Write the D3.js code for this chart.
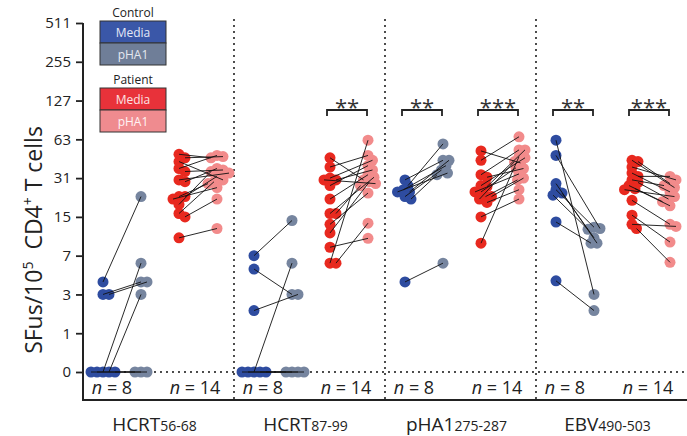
<!DOCTYPE html>
<html>
<head>
<meta charset="utf-8">
<script src="https://cdn.jsdelivr.net/npm/d3@7"></script>
<style>
  body { margin: 0; background: #fff; }
  svg { display: block; font-family: 'Open Sans', sans-serif; }
</style>
</head>
<body>
<svg></svg>
<script>
// peptide panels
let peptides = ['HCRT', 'HCRT', 'pHA1', 'EBV']
let peptideSubs = ['56-68', '87-99', '275-287', '490-503']
let yTicks = [0, 1, 3, 7, 15, 31, 63, 127, 255, 511]

// SFus per 10^5 CD4+ T cells, paired by index (media -> pHA1)
let controlMedia = [
  [4, 3, 3, 0, 0, 0, 0, 0],
  [7, 5.3, 2, 0, 0, 0, 0, 0],
  [30, 27, 25, 24, 24, 22, 21, 4],
  [62, 47, 28, 25, 23.5, 22.6, 13.6, 4.1]
]
let controlPHA1 = [
  [22, 4, 4, 6, 3, 0, 0, 0],
  [14, 3, 3, 6, 0, 0, 0, 0],
  [43, 58, 39, 43, 34, 36, 33, 6],
  [3, 12, 9, 12.3, 10, 11.8, 9, 2]
]
let patientMedia = [
  [45, 48, 42, 37, 35, 30, 29, 22, 22, 21, 19, 16, 15, 10],
  [45, 38, 31, 30, 30, 27, 21, 16, 16, 13, 11, 8.3, 6, 6],
  [51, 43, 33, 31.5, 27, 26.5, 24, 24, 22, 22, 21, 19.7, 15, 9],
  [43, 42, 38, 34, 32, 30, 28.6, 27, 25, 25.5, 20.5, 15.5, 13, 12]
]
let patientPHA1 = [
  [46, 45, 30, 47, 36, 34, 37, 28, 32, 26, 35, 29, 21, 12],
  [30, 47, 43, 36, 28, 39, 33, 31.5, 27, 23.5, 29, 9.9, 62, 13.3],
  [41, 66, 52, 37, 45, 52, 37.5, 33.5, 30, 31, 42, 25, 21, 46],
  [26, 28, 30, 24, 32, 27, 21, 20, 22, 18.5, 13, 9.2, 12.5, 6.1]
]
let sigControl = ['', '', '**', '**']
let sigPatient = ['', '**', '***', '***']
let nControl = 8
let nPatient = 14

let width = 687
let height = 436
let axisLeftX = 83
let axisBottomY = 400
let radius = 5.5

let colors = { cm: '#2e4ca0', cp: '#76859f', pm: '#e8291f', pp: '#f28b8b' }

let svg = d3.select('svg').attr('width', width).attr('height', height)

let yScale = d3.scaleLog().base(2).domain([1, 512]).range([372, 23])
let y = v => yScale(v + 1)

let xPanel = d3.scaleBand().domain(d3.range(4)).range([axisLeftX, width])
let xGroup = d3.scalePoint().domain(['cm', 'cp', 'pm', 'pp']).range([20, 134])

// simple beeswarm so overlapping dots spread sideways
let swarm = (vals, cx) => {
  let pts = vals.map((v, i) => ({ v: v, i: i, y: y(v) }))
  let order = pts.slice().sort((a, b) => d3.descending(a.v, b.v))
  let placed = []
  let minD = 6
  order.forEach(p => {
    for (let k = 0; k < 80; k++) {
      let off = (k % 2 ? 1 : -1) * Math.ceil(k / 2) * 1.5
      let x = cx + off
      let ok = placed.every(q => (q.x - x) ** 2 + (q.y - p.y) ** 2 >= minD * minD)
      if (ok) { p.x = x; break }
    }
    placed.push(p)
  })
  return pts
}

// zero reference line
svg.append('line')
  .attr('x1', axisLeftX).attr('x2', width)
  .attr('y1', y(0)).attr('y2', y(0))
  .attr('stroke', '#111').attr('stroke-width', 2)
  .attr('stroke-linecap', 'round').attr('stroke-dasharray', '0,6')

// panel separators
d3.range(1, 4).forEach(i => {
  svg.append('line')
    .attr('x1', xPanel(i)).attr('x2', xPanel(i))
    .attr('y1', 20).attr('y2', axisBottomY)
    .attr('stroke', '#111').attr('stroke-width', 2)
    .attr('stroke-linecap', 'round').attr('stroke-dasharray', '0,6')
})

let groups = [
  { key: 'cm', data: controlMedia },
  { key: 'cp', data: controlPHA1 },
  { key: 'pm', data: patientMedia },
  { key: 'pp', data: patientPHA1 }
]

let dotLayer = svg.append('g')
let lineLayer = svg.append('g')

d3.range(4).forEach(p => {
  let pos = {}
  groups.forEach(g => {
    pos[g.key] = swarm(g.data[p], xPanel(p) + xGroup(g.key))
    dotLayer.selectAll(null)
      .data(pos[g.key])
      .enter()
      .append('circle')
      .attr('cx', d => d.x)
      .attr('cy', d => d.y)
      .attr('r', radius)
      .attr('fill', colors[g.key])
  })
  let pairs = [['cm', 'cp'], ['pm', 'pp']]
  pairs.forEach(pr => {
    lineLayer.selectAll(null)
      .data(pos[pr[0]])
      .enter()
      .append('line')
      .attr('x1', d => d.x)
      .attr('y1', d => d.y)
      .attr('x2', d => pos[pr[1]][d.i].x)
      .attr('y2', d => pos[pr[1]][d.i].y)
      .attr('stroke', '#111')
      .attr('stroke-width', 0.9)
  })

  // significance brackets
  let sigs = [[sigControl[p], 'cm', 'cp'], [sigPatient[p], 'pm', 'pp']]
  sigs.forEach(s => {
    if (!s[0]) return
    let x1 = xPanel(p) + xGroup(s[1]) - 3
    let x2 = xPanel(p) + xGroup(s[2]) - 1
    svg.append('path')
      .attr('d', `M${x1},116V110H${x2}V116`)
      .attr('fill', 'none').attr('stroke', '#222').attr('stroke-width', 1.8)
    svg.append('text')
      .attr('x', (x1 + x2) / 2).attr('y', 115)
      .attr('text-anchor', 'middle')
      .attr('font-size', 22).attr('fill', '#333')
      .text(s[0])
  })

  // n labels
  let nl = [[nControl, 'cm', 'cp', -10], [nPatient, 'pm', 'pp', -3]]
  nl.forEach(n => {
    let t = svg.append('text')
      .attr('x', xPanel(p) + (xGroup(n[1]) + xGroup(n[2])) / 2 + n[3])
      .attr('y', 394)
      .attr('text-anchor', 'middle')
      .attr('font-size', 18).attr('fill', '#222')
    t.append('tspan').attr('font-style', 'italic').text('n')
    t.append('tspan').text(' = ' + n[0])
  })

  // x category label
  let lab = svg.append('text')
    .attr('x', xPanel(p) + xPanel.bandwidth() / 2 - 4)
    .attr('y', 431)
    .attr('text-anchor', 'middle')
    .attr('fill', '#222')
    .attr('font-size', 19)
  lab.append('tspan').text(peptides[p])
  lab.append('tspan').attr('font-size', 14).text(peptideSubs[p])
})

// axes
let yAxis = d3.axisLeft(yScale)
  .tickValues(yTicks.map(d => d + 1))
  .tickFormat(d => d - 1)
  .tickSize(7)
  .tickSizeOuter(0)
  .tickPadding(5)

let ya = svg.append('g')
  .attr('transform', 'translate(' + axisLeftX + ',0)')
  .call(yAxis)
ya.select('.domain').remove()
ya.selectAll('.tick line').attr('stroke', '#222').attr('stroke-width', 1.8)
ya.selectAll('.tick text').attr('font-size', 15).attr('fill', '#222').attr('font-family', "'Open Sans', sans-serif")

svg.append('path')
  .attr('d', `M${axisLeftX},23V${axisBottomY}H${width}`)
  .attr('fill', 'none').attr('stroke', '#222').attr('stroke-width', 2)

// y label
let yl = svg.append('text')
  .attr('transform', 'translate(42,' + 240 + ') rotate(-90)')
  .attr('text-anchor', 'middle')
  .style('white-space', 'pre')
  .attr('font-size', 23).attr('fill', '#222')
yl.append('tspan').text('SFus/10')
yl.append('tspan').attr('font-size', 14).attr('dy', -9).text('5')
yl.append('tspan').attr('dy', 9).text('  CD4')
yl.append('tspan').attr('font-size', 14).attr('dy', -9).text('+')
yl.append('tspan').attr('dy', 9).text(' T cells')

// legend
let legend = [
  { title: 'Control', top: 21, items: [['Media', '#3a57a8', '#e4e8f6'], ['pHA1', '#6f7e98', '#e4e8f0']] },
  { title: 'Patient', top: 88, items: [['Media', '#e8323a', '#fbe3e3'], ['pHA1', '#ef8b8f', '#fff4f4']] }
]
legend.forEach(l => {
  svg.append('text')
    .attr('x', 133).attr('y', l.top - 4)
    .attr('text-anchor', 'middle')
    .attr('font-size', 12).attr('fill', '#222')
    .text(l.title)
  l.items.forEach((it, j) => {
    svg.append('rect')
      .attr('x', 100).attr('y', l.top + j * 22)
      .attr('width', 66).attr('height', 22)
      .attr('fill', it[1]).attr('stroke', '#333').attr('stroke-width', 1)
    svg.append('text')
      .attr('x', 133).attr('y', l.top + j * 22 + 15.5)
      .attr('text-anchor', 'middle')
      .attr('font-size', 12).attr('fill', it[2])
      .text(it[0])
  })
})
</script>
</body>
</html>
